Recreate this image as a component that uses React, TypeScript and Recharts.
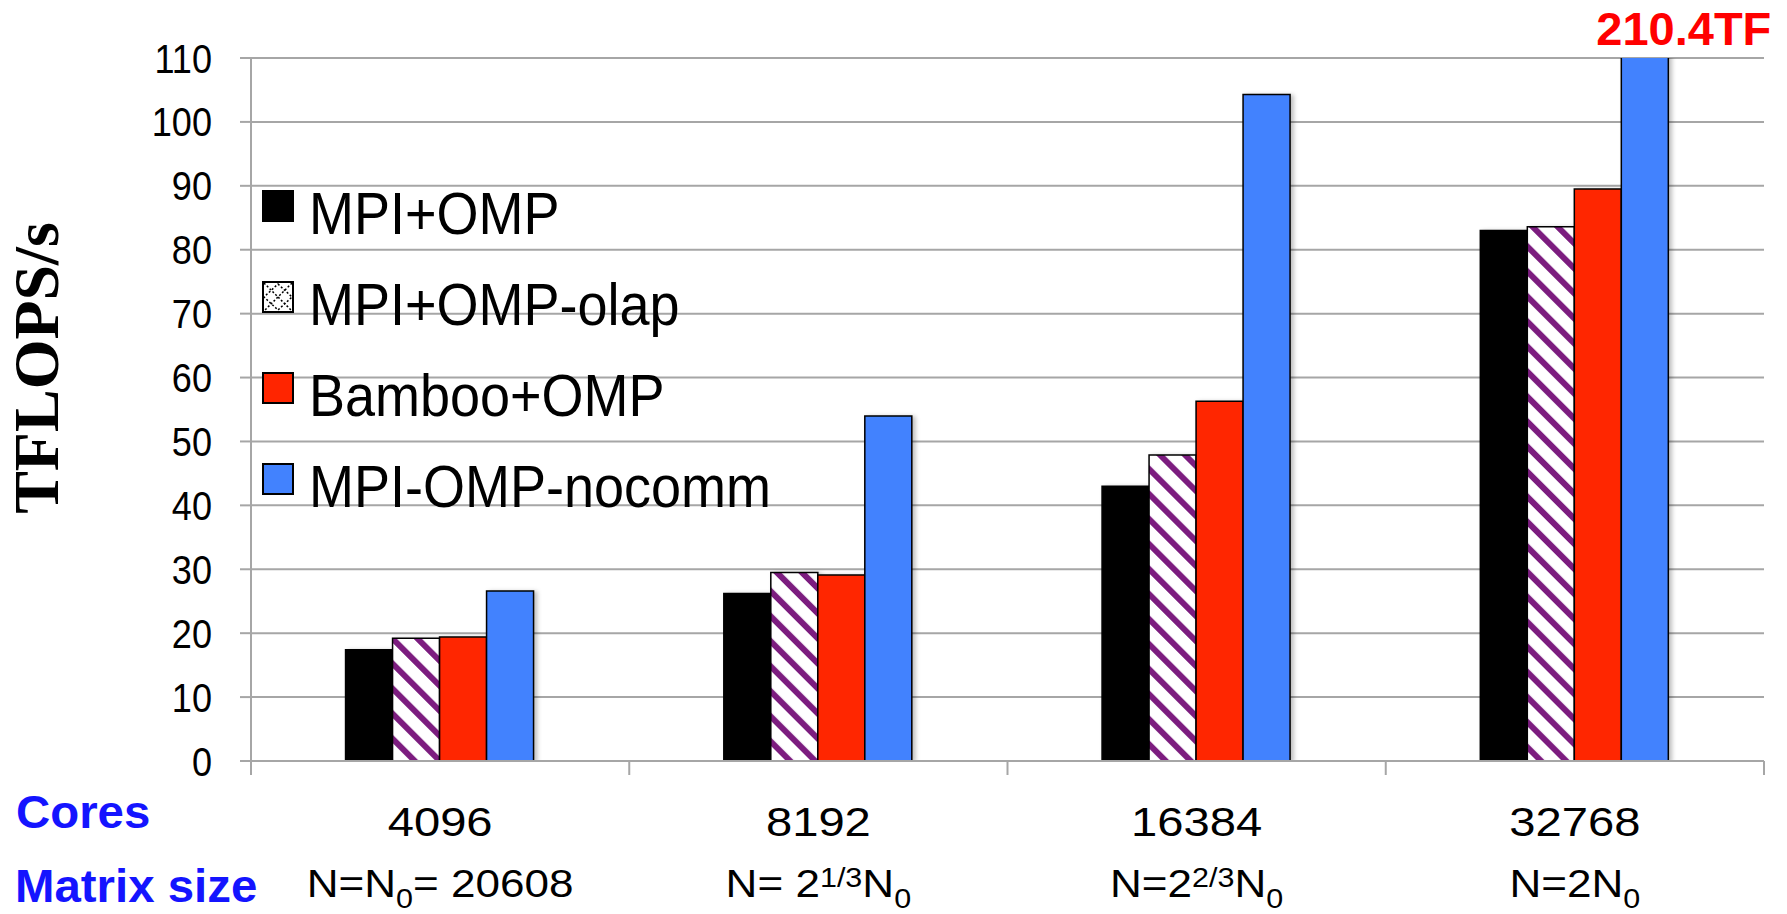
import { BarChart, Bar, XAxis, YAxis, CartesianGrid, Legend, LabelList } from 'recharts'

// cores per run
const categories = ['4096', '8192', '16384', '32768']
// TFLOPS/s per version
const mpiOmp = [17.4, 26.2, 43.0, 83.0]
const mpiOmpOlap = [19.2, 29.5, 47.9, 83.6]
const bambooOmp = [19.4, 29.1, 56.3, 89.5]
const mpiOmpNocomm = [26.6, 54.0, 104.3, 210.4]
const yTicks = [0, 10, 20, 30, 40, 50, 60, 70, 80, 90, 100, 110]
const seriesOrder = ['mpiOmp', 'olap', 'bamboo', 'nocomm']

// second tick line: matrix size, with sub/superscripts
type Seg = { text: string; pos?: 'sup' | 'sub' }
const matrixSizes: Seg[][] = [
  [{ text: 'N=N' }, { text: '0', pos: 'sub' }, { text: '= 20608' }],
  [{ text: 'N= 2' }, { text: '1/3', pos: 'sup' }, { text: 'N' }, { text: '0', pos: 'sub' }],
  [{ text: 'N=2' }, { text: '2/3', pos: 'sup' }, { text: 'N' }, { text: '0', pos: 'sub' }],
  [{ text: 'N=2N' }, { text: '0', pos: 'sub' }],
]

const rows = categories.map((cores, i) => ({
  cores,
  mpiOmp: mpiOmp[i],
  olap: mpiOmpOlap[i],
  bamboo: bambooOmp[i],
  nocomm: mpiOmpNocomm[i],
}))

const W = 1787
const H = 914
const Y_AXIS_W = 251
const X_AXIS_H = 153
const MARGIN = { top: 58, right: 23, bottom: 0, left: 0 }
const BAND = (W - Y_AXIS_W - MARGIN.right) / categories.length
const Y_MAX = 110

const SANS = '"Liberation Sans", Arial, Helvetica, sans-serif'
const SERIF = '"Liberation Serif", "Times New Roman", serif'
const GRAY = '#a6a6a6'
const BLUE_TEXT = '#1414ff'
const PURPLE = '#7b1f7f'

function MatrixText({ x, y, segs }: { x: number; y: number; segs: Seg[] }) {
  let shift = 0
  return (
    <text
      transform={`translate(${x},${y}) scale(1.13,1)`}
      textAnchor="middle"
      fontSize={39}
      fontFamily={SANS}
      fill="#000"
    >
      {segs.map((s, i) => {
        const target = s.pos === 'sup' ? -10 : s.pos === 'sub' ? 11 : 0
        const dy = target - shift
        shift = target
        return (
          <tspan key={i} dy={dy} fontSize={s.pos ? 27 : 39}>
            {s.text}
          </tspan>
        )
      })}
    </text>
  )
}

function CoreTick(props: any) {
  const { x, y, index } = props
  const half = BAND / 2
  return (
    <g>
      <line x1={x - half} x2={x - half} y1={y} y2={y + 14} stroke={GRAY} strokeWidth={2} />
      {index === categories.length - 1 && (
        <line x1={x + half} x2={x + half} y1={y} y2={y + 14} stroke={GRAY} strokeWidth={2} />
      )}
      <text
        transform={`translate(${x},${y + 75}) scale(1.15,1)`}
        textAnchor="middle"
        fontSize={41}
        fontFamily={SANS}
        fill="#000"
      >
        {categories[index]}
      </text>
      <MatrixText x={x} y={y + 136} segs={matrixSizes[index]} />
      {index === 0 && (
        <g fontFamily={SANS} fontWeight="bold" fontSize={46} fill={BLUE_TEXT}>
          <text transform={`translate(16,${y + 67}) scale(1.03,1)`}>Cores</text>
          <text transform={`translate(15,${y + 141}) scale(1.03,1)`}>Matrix size</text>
        </g>
      )}
    </g>
  )
}

function ValueTick(props: any) {
  const { x, y, payload } = props
  return (
    <text
      transform={`translate(${x},${y}) scale(0.88,1)`}
      textAnchor="end"
      dy="0.355em"
      fontSize={41}
      fontFamily={SANS}
      fill="#000"
    >
      {payload.value}
    </text>
  )
}

function OverflowLabel(props: any) {
  const { x, width, value } = props
  if (value <= Y_MAX) return null
  return (
    <text
      x={x + width / 2 + 39}
      y={MARGIN.top - 13}
      textAnchor="middle"
      fontSize={47}
      fontWeight="bold"
      fontFamily={SANS}
      fill="#ff0000"
    >
      {value}TF
    </text>
  )
}

function renderLegend({ payload }: any) {
  const items = [...(payload || [])].sort(
    (a: any, b: any) => seriesOrder.indexOf(a.dataKey) - seriesOrder.indexOf(b.dataKey),
  )
  return (
    <svg width={520} height={380} style={{ overflow: 'visible' }}>
      {items.map((item: any, i: number) => {
        const top = 6 + 91 * i
        const isOlap = item.dataKey === 'olap'
        return (
          <g key={item.value}>
            <rect
              x={1}
              y={top}
              width={30}
              height={30}
              fill={isOlap ? '#fff' : item.color}
              stroke="#000"
              strokeWidth={2}
            />
            {isOlap && (
              <g stroke="#000" strokeWidth={1.5} strokeDasharray="2 2" fill="none">
                <line x1={2} y1={top + 1} x2={30} y2={top + 29} />
                <line x1={30} y1={top + 1} x2={2} y2={top + 29} />
                <polygon points={`16,${top + 2} 30,${top + 15} 16,${top + 28} 2,${top + 15}`} />
              </g>
            )}
            <text
              transform={`translate(47,${top + 43}) scale(0.9,1)`}
              fontSize={60}
              fontFamily={SANS}
              fill="#000"
            >
              {item.value}
            </text>
          </g>
        )
      })}
    </svg>
  )
}

export default function App() {
  return (
    <div style={{ position: 'absolute', left: 0, top: 0, width: W, height: H, background: '#fff' }}>
      <BarChart
        width={W}
        height={H}
        data={rows}
        margin={MARGIN}
        barCategoryGap="25%"
        barGap={0}
      >
        <defs>
          <pattern
            id="olapHatch"
            patternUnits="userSpaceOnUse"
            width={17.7}
            height={17.7}
            patternTransform="rotate(-45)"
          >
            <rect x={0} y={0} width={17.7} height={17.7} fill="#fff" />
            <rect x={0} y={0} width={6} height={17.7} fill={PURPLE} />
          </pattern>
          <filter id="barShadow" x="-20%" y="-5%" width="150%" height="115%">
            <feDropShadow dx={3} dy={1} stdDeviation={2} floodColor="#000" floodOpacity={0.25} />
          </filter>
        </defs>
        <CartesianGrid vertical={false} stroke={GRAY} strokeWidth={2} />
        <XAxis
          dataKey="cores"
          height={X_AXIS_H}
          interval={0}
          tickLine={false}
          tickSize={0}
          tickMargin={0}
          axisLine={{ stroke: GRAY, strokeWidth: 2 }}
          tick={(p: any) => <CoreTick {...p} />}
        />
        <YAxis
          width={Y_AXIS_W}
          domain={[0, Y_MAX]}
          ticks={yTicks}
          allowDataOverflow
          interval={0}
          tickSize={11}
          tickMargin={28}
          axisLine={{ stroke: GRAY, strokeWidth: 2 }}
          tickLine={{ stroke: GRAY, strokeWidth: 2 }}
          tick={(p: any) => <ValueTick {...p} />}
          label={{
            content: () => (
              <text
                x={58}
                y={368}
                transform="rotate(-90 58 368)"
                textAnchor="middle"
                fontSize={64}
                fontWeight="bold"
                fontFamily={SERIF}
                fill="#000"
              >
                TFLOPS/s
              </text>
            ),
          }}
        />
        <Legend
          layout="horizontal"
          verticalAlign="middle"
          align="center"
          wrapperStyle={{ left: 262, top: 185, width: 520, height: 380 }}
          content={renderLegend}
        />
        <Bar dataKey="mpiOmp" name="MPI+OMP" fill="#000" stroke="#000" strokeWidth={1.5} filter="url(#barShadow)" isAnimationActive={false} />
        <Bar dataKey="olap" name="MPI+OMP-olap" fill="url(#olapHatch)" stroke="#000" strokeWidth={1.5} filter="url(#barShadow)" isAnimationActive={false} />
        <Bar dataKey="bamboo" name="Bamboo+OMP" fill="#ff2500" stroke="#000" strokeWidth={1.5} filter="url(#barShadow)" isAnimationActive={false} />
        <Bar dataKey="nocomm" name="MPI-OMP-nocomm" fill="#4282fe" stroke="#000" strokeWidth={1.5} filter="url(#barShadow)" isAnimationActive={false}>
          <LabelList dataKey="nocomm" content={(p: any) => <OverflowLabel {...p} />} />
        </Bar>
      </BarChart>
    </div>
  )
}
